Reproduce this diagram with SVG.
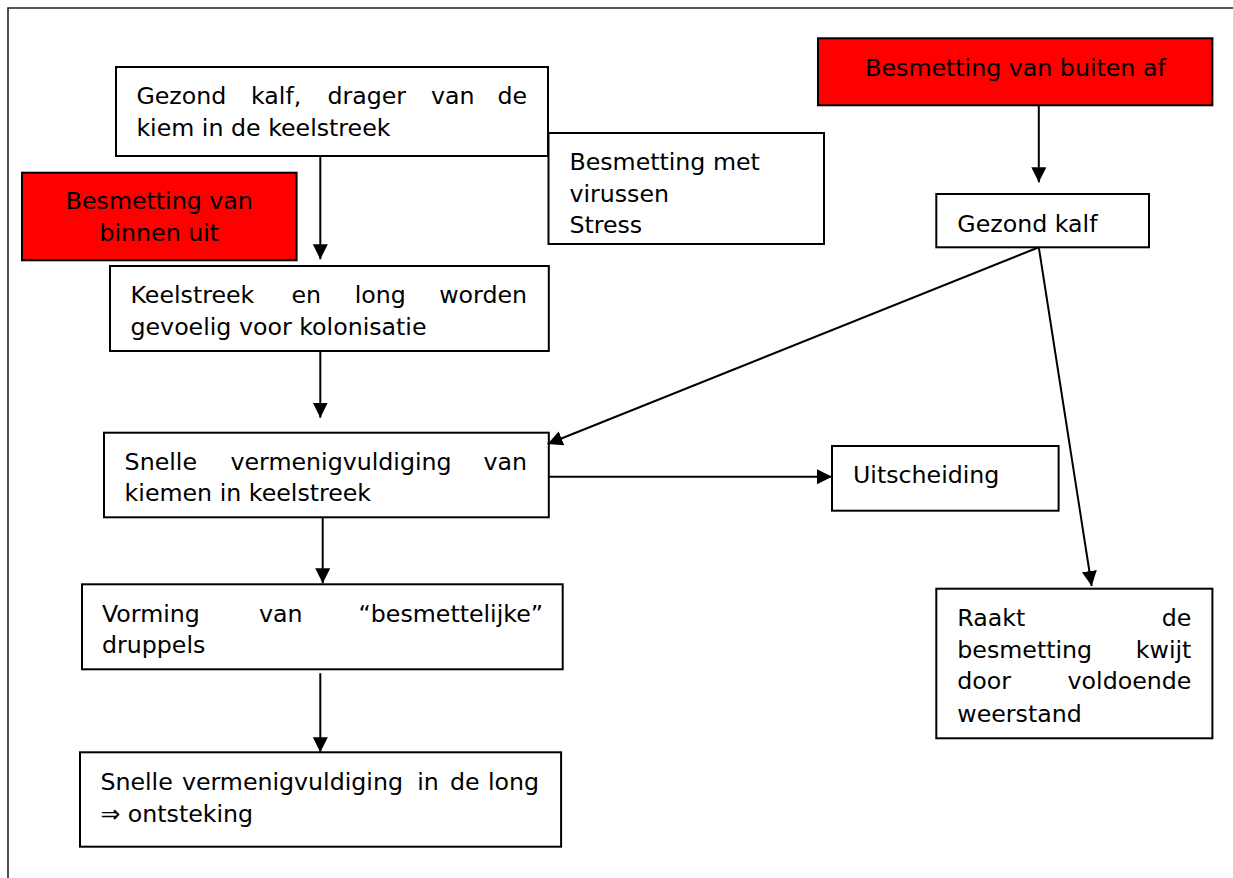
<svg xmlns="http://www.w3.org/2000/svg" width="1233" height="878" viewBox="0 0 1233 878">
<style>
.box{fill:#fff;stroke:#000;stroke-width:2}
.red{fill:#ff0000;stroke:#000;stroke-width:2}
.t{font-family:"DejaVu Sans","Verdana",sans-serif;font-size:23.7px;fill:#000}
.c{text-anchor:middle}
.e{text-anchor:end}
.con{stroke:#000;stroke-width:2;fill:none}
</style>
<defs>
<marker id="ah" markerUnits="userSpaceOnUse" markerWidth="16" markerHeight="16" refX="15" refY="7.5" orient="auto">
<path d="M0,0 L15,7.5 L0,15 z" fill="#000"/>
</marker>
</defs>
<rect width="1233" height="878" fill="#fff"/>
<polyline points="8,878 8,8 1233,8" fill="none" stroke="#222" stroke-width="1.6"/>

<g id="n1">
<rect class="box" x="116" y="67" width="432" height="89"/>
<text class="t" y="104"><tspan x="136.4">Gezond</tspan><tspan x="251">kalf,</tspan><tspan x="327.4">drager</tspan><tspan x="431">van</tspan><tspan x="527" class="e">de</tspan></text>
<text class="t" x="136.4" y="136">kiem in de keelstreek</text>
</g>

<g id="n2">
<rect class="box" x="548.5" y="133" width="275.5" height="111"/>
<text class="t" x="569.4" y="170">Besmetting met</text>
<text class="t" x="569.4" y="201.7">virussen</text>
<text class="t" x="569.4" y="233.3">Stress</text>
</g>

<g id="n3">
<rect class="red" x="22" y="172.7" width="274.6" height="87.6"/>
<text class="t c" x="159.3" y="209">Besmetting van</text>
<text class="t c" x="159.3" y="240.7">binnen uit</text>
</g>

<g id="n4">
<rect class="red" x="818" y="38.3" width="394.4" height="67"/>
<text class="t c" x="1015.5" y="76">Besmetting van buiten af</text>
</g>

<g id="n5">
<rect class="box" x="936.3" y="194" width="212.7" height="53.3"/>
<text class="t" x="957.3" y="231.7">Gezond kalf</text>
</g>

<g id="n6">
<rect class="box" x="110" y="266" width="438.8" height="85"/>
<text class="t" y="303.3"><tspan x="130.5">Keelstreek</tspan><tspan x="291.4">en</tspan><tspan x="354.7">long</tspan><tspan x="527" class="e">worden</tspan></text>
<text class="t" x="130.5" y="335">gevoelig voor kolonisatie</text>
</g>

<g id="n7">
<rect class="box" x="104" y="432.7" width="444.8" height="84.6"/>
<text class="t" y="470"><tspan x="124.6">Snelle</tspan><tspan x="230.5">vermenigvuldiging</tspan><tspan x="527" class="e">van</tspan></text>
<text class="t" x="124.6" y="501">kiemen in keelstreek</text>
</g>

<g id="n8">
<rect class="box" x="832" y="446" width="226.6" height="64.7"/>
<text class="t" x="853" y="482.7">Uitscheiding</text>
</g>

<g id="n9">
<rect class="box" x="82" y="584.3" width="480.7" height="85"/>
<text class="t" y="621.7"><tspan x="102">Vorming</tspan><tspan x="259">van</tspan><tspan x="543" class="e">“besmettelijke”</tspan></text>
<text class="t" x="102" y="653.3">druppels</text>
</g>

<g id="n10">
<rect class="box" x="80" y="752.3" width="481.1" height="94.4"/>
<text class="t" y="790"><tspan x="100.4">Snelle</tspan><tspan x="181.9">vermenigvuldiging</tspan><tspan x="417.2">in</tspan><tspan x="450">de</tspan><tspan x="539" class="e">long</tspan></text>
<text class="t" x="100.4" y="821.7">⇒ ontsteking</text>
</g>

<g id="n11">
<rect class="box" x="936.3" y="588.7" width="276.1" height="149.6"/>
<text class="t" y="625.7"><tspan x="957.3">Raakt</tspan><tspan x="1191.4" class="e">de</tspan></text>
<text class="t" y="657.7"><tspan x="957.3">besmetting</tspan><tspan x="1191.4" class="e">kwijt</tspan></text>
<text class="t" y="689.3"><tspan x="957.3">door</tspan><tspan x="1191.4" class="e">voldoende</tspan></text>
<text class="t" x="957.3" y="721.7">weerstand</text>
</g>

<g id="connectors">
<line class="con" x1="320.3" y1="156" x2="320.3" y2="259.3" marker-end="url(#ah)"/>
<line class="con" x1="1038.8" y1="105.3" x2="1038.8" y2="182.3" marker-end="url(#ah)"/>
<line class="con" x1="320.3" y1="351" x2="320.3" y2="417.7" marker-end="url(#ah)"/>
<line class="con" x1="322.7" y1="517.3" x2="322.7" y2="583.3" marker-end="url(#ah)"/>
<line class="con" x1="320.3" y1="673.3" x2="320.3" y2="752.3" marker-end="url(#ah)"/>
<line class="con" x1="548.8" y1="476.7" x2="832" y2="476.7" marker-end="url(#ah)"/>
<line class="con" x1="1038.8" y1="247.3" x2="547.6" y2="444" marker-end="url(#ah)"/>
<line class="con" x1="1038.8" y1="247.3" x2="1091.7" y2="586" marker-end="url(#ah)"/>
</g>
</svg>
